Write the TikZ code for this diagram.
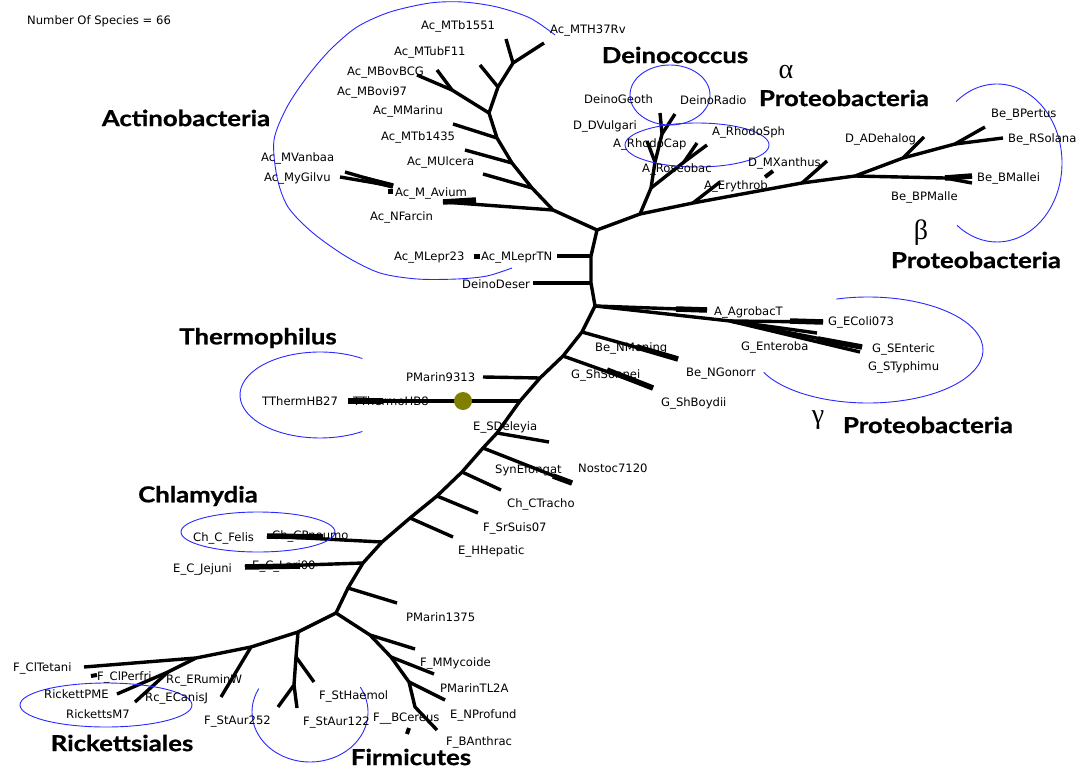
\documentclass[tikz,border=0pt]{standalone}
\usepackage{fontspec}
\newfontfamily\labfont{DejaVu Sans}
\newfontfamily\ttlfont{Lato}[FakeStretch=1.17, BoldFeatures={FakeBold=0.8}]
\newfontfamily\grkfont{Liberation Serif}
\definecolor{grpblue}{RGB}{40,40,255}
\definecolor{dotolive}{RGB}{128,128,0}
\begin{document}
\begin{tikzpicture}[x=1pt,y=-1pt,
  br/.style={line width=3.4pt, line join=round},
  wg/.style={line width=5.5pt},
  lab/.style={font=\labfont\fontsize{11.6}{12}\selectfont, inner sep=0pt, anchor=west, text height=8.5pt, text depth=0pt},
  ttl/.style={font=\ttlfont\bfseries\fontsize{22}{24}\selectfont, inner sep=0pt},
  grk/.style={font=\grkfont\fontsize{28}{30}\selectfont, inner sep=0pt},
  grp/.style={draw=grpblue, line width=0.9pt}]
\fill[white] (0,0) rectangle (1086,768);
\path[use as bounding box] (0,0) rectangle (1086,768);

% ---------- trunk ----------
\coordinate (T1) at (597,230);
\coordinate (tr1) at (591,256);
\coordinate (tr2) at (591,283);
\coordinate (T2) at (595,306);
\coordinate (d1) at (582,332);
\coordinate (d2) at (563,356);
\coordinate (d3) at (540,378);
\coordinate (d4) at (520,401);
\coordinate (d5) at (497,433);
\coordinate (d6) at (483,448);
\coordinate (d7) at (462,472);
\coordinate (d8) at (437,496);
\coordinate (d9) at (410,518);
\coordinate (d10) at (382,542);
\coordinate (d11) at (363,563);
\coordinate (d12) at (348,588);
\coordinate (B) at (336,613);
\draw[br] (T1) -- (tr1) -- (tr2) -- (T2) -- (d1) -- (d2) -- (d3) -- (d4) -- (d5) -- (d6) -- (d7) -- (d8) -- (d9) -- (d10) -- (d11) -- (d12) -- (B);

% ---------- Actinobacteria ----------
\coordinate (H1) at (553,210);
\coordinate (H2) at (532,188);
\coordinate (H3) at (512,163);
\coordinate (H4) at (497,138);
\coordinate (H5) at (489,113);
\coordinate (H6) at (452,90);
\coordinate (H7) at (498,87);
\coordinate (H8) at (513,63);
\coordinate (ac1) at (417,75);
\coordinate (ac2) at (437,70);
\coordinate (ac3) at (506,39);
\coordinate (ac4) at (544,43);
\coordinate (ac5) at (480,65);
\coordinate (ac6) at (453,124);
\coordinate (ac7) at (465,150);
\coordinate (ac8) at (483,174);
\coordinate (ac9) at (443,202);
\coordinate (ac9w) at (476,200);
\coordinate (av0) at (393,186);
\coordinate (av0w) at (365,179);
\coordinate (av1) at (345,172);
\coordinate (av2) at (340,177);
\draw[br] (T1) -- (H1) -- (H2) -- (H3) -- (H4) -- (H5) -- (H6) -- (ac1);
\draw[br] (H6) -- (ac2);
\draw[br] (H5) -- (H7) -- (H8) -- (ac4);
\draw[br] (H8) -- (ac3);
\draw[br] (H7) -- (ac5);
\draw[br] (H4) -- (ac6);
\draw[br] (H3) -- (ac7);
\draw[br] (H2) -- (ac8);
\draw[br] (H1) -- (ac9);
\draw[wg] (ac9) -- (ac9w);
\draw[br] (av0) -- (av1);
\draw[br] (av0) -- (av2);
\draw[wg] (av0) -- (av0w);
\fill (388,189) rectangle (393,194);
\coordinate (lp) at (557,256);
\coordinate (dd) at (533,283);
\draw[br] (tr1) -- (lp);
\draw[br] (tr2) -- (dd);
\fill (474,254) rectangle (480,259);

% ---------- Deinococcus / alpha / beta ----------
\coordinate (A1) at (640,214);
\coordinate (A2) at (651,188);
\coordinate (A3) at (655,162);
\coordinate (A4) at (662,134);
\coordinate (dg) at (660,113);
\coordinate (dr) at (675,114);
\coordinate (rc) at (647,141);
\coordinate (A5) at (684,162);
\coordinate (rs1) at (707,145);
\coordinate (rs2) at (697,143);
\coordinate (A6) at (693,203);
\coordinate (ery) at (720,182);
\coordinate (C1) at (802,183);
\coordinate (mx) at (827,161);
\coordinate (C2) at (855,176);
\coordinate (C3) at (903,158);
\coordinate (deh) at (924,137);
\coordinate (C4) at (955,144);
\coordinate (bp) at (985,127);
\coordinate (rsol) at (1003,138);
\coordinate (C5) at (945,178);
\coordinate (bm1) at (972,176);
\coordinate (bm2) at (972,183);
\draw[br] (T1) -- (A1) -- (A2) -- (A3) -- (A4) -- (dg);
\draw[br] (A4) -- (dr);
\draw[br] (A3) -- (rc);
\draw[br] (A2) -- (A5) -- (rs1);
\draw[br] (A5) -- (rs2);
\draw[br] (A1) -- (A6) -- (C1) -- (C2) -- (C3) -- (C4) -- (bp);
\draw[br] (C4) -- (rsol);
\draw[br] (C3) -- (deh);
\draw[br] (C1) -- (mx);
\draw[br] (A6) -- (ery);
\draw[br] (C2) -- (C5) -- (bm1);
\draw[br] (C5) -- (bm2);
\draw[wg] (C5) -- (bm1);
\draw[line width=4pt] (765,177) -- (773,171);

% ---------- gamma ----------
\coordinate (agro) at (707,310);
\coordinate (agrow) at (676,309);
\coordinate (G1) at (730,321);
\coordinate (eco) at (823,322);
\coordinate (ecow) at (790,321);
\coordinate (ent) at (817,333);
\coordinate (sen) at (862,347);
\coordinate (sty) at (860,352);
\coordinate (senw) at (818,339);
\draw[br] (T2) -- (agro);
\draw[wg] (agrow) -- (agro);
\draw[br] (T2) -- (G1) -- (eco);
\draw[wg] (ecow) -- (eco);
\draw[br] (G1) -- (ent);
\draw[br] (G1) -- (sen);
\draw[br] (G1) -- (sty);
\draw[wg] (senw) -- (sen);

\coordinate (nm) at (678,359);
\coordinate (nmw) at (637,347);
\coordinate (sb) at (653,388);
\coordinate (sbw) at (607,370);
\coordinate (pm93) at (483,377);
\coordinate (th) at (348,401);
\coordinate (thw) at (383,401);
\draw[br] (d1) -- (nm);
\draw[wg] (nmw) -- (nm);
\draw[br] (d2) -- (sb);
\draw[wg] (sbw) -- (sb);
\draw[br] (d3) -- (pm93);
\draw[br] (d4) -- (th);
\draw[wg] (thw) -- (th);
\node[circle, fill=dotolive, minimum size=18pt, inner sep=0pt] (root) at (463,401) {};

% ---------- lower trunk branches ----------
\coordinate (sd) at (549,442);
\coordinate (nos) at (572,483);
\coordinate (nosw) at (553,476);
\coordinate (cht) at (501,490);
\coordinate (srs) at (478,513);
\coordinate (hh) at (453,537);
\coordinate (cpn) at (267,536);
\coordinate (cpnw) at (323,537);
\coordinate (lar) at (245,567);
\coordinate (larw) at (300,566);
\coordinate (pm13) at (397,603);
\draw[br] (d5) -- (sd);
\draw[br] (d6) -- (nos);
\draw[wg] (nosw) -- (nos);
\draw[br] (d7) -- (cht);
\draw[br] (d8) -- (srs);
\draw[br] (d9) -- (hh);
\draw[br] (d10) -- (cpn);
\draw[wg] (cpnw) -- (cpn);
\draw[br] (d11) -- (lar);
\draw[wg] (larw) -- (lar);
\draw[br] (d12) -- (pm13);

% ---------- bottom ----------
\coordinate (J4) at (298,632);
\coordinate (J5) at (296,657);
\coordinate (sh) at (314,682);
\coordinate (J6) at (294,685);
\coordinate (sa1) at (278,707);
\coordinate (sa2) at (297,708);
\coordinate (J1) at (251,647);
\coordinate (ec) at (221,697);
\coordinate (J2) at (196,658);
\coordinate (ct) at (84,667);
\coordinate (J3) at (168,672);
\coordinate (rp) at (117,694);
\coordinate (rm) at (135,702);
\draw[br] (B) -- (J4) -- (J1) -- (J2) -- (ct);
\draw[br] (J4) -- (J5) -- (sh);
\draw[br] (J5) -- (J6) -- (sa1);
\draw[br] (J6) -- (sa2);
\draw[br] (J1) -- (ec);
\draw[br] (J2) -- (J3) -- (rp);
\draw[br] (J3) -- (rm);
\draw[line width=4pt] (91,676) -- (97,675);
\coordinate (J7) at (370,635);
\coordinate (J8) at (391,657);
\coordinate (J9) at (409,682);
\coordinate (J10) at (415,707);
\coordinate (f1) at (415,649);
\coordinate (f2) at (434,674);
\coordinate (f3) at (445,700);
\coordinate (f4) at (437,730);
\draw[br] (B) -- (J7) -- (J8) -- (J9) -- (J10) -- (f4);
\draw[br] (J7) -- (f1);
\draw[br] (J8) -- (f2);
\draw[br] (J9) -- (f3);
\draw[line width=4pt] (409,728) -- (407,734);

% ---------- group outlines ----------
\draw[grp] plot[smooth] coordinates {(555,35) (530,18) (497,7) (463,2) (430,3) (390,12) (357,27) (330,50) (307,77) (287,107) (274,140) (277,177) (288,207) (313,233) (347,257) (380,273) (417,279) (457,279) (487,276) (512,268)};
\draw[grp] (670,95) ellipse [x radius=40, y radius=30];
\draw[grp] (697,145) ellipse [x radius=72, y radius=22];
\draw[grp] (258,532) ellipse [x radius=77, y radius=20];
\draw[grp] (106,705) ellipse [x radius=86, y radius=22];
\draw[grp, shift={(997,163)}] ({65*cos(231)},{79*sin(231)}) arc[start angle=231, end angle=488, x radius=65, y radius=79];
\draw[grp, shift={(868,350)}] ({115*cos(254)},{53*sin(254)}) arc[start angle=254, end angle=515, x radius=115, y radius=53];
\draw[grp, shift={(320,395)}] ({80*cos(302)},{43*sin(302)}) arc[start angle=302, end angle=58, x radius=80, y radius=43];
\draw[grp, shift={(310,712)}] ({58*cos(208)},{50*sin(208)}) arc[start angle=208, end angle=-30, x radius=58, y radius=50];

% ---------- labels ----------
\node[lab] (nsp) at (27,20) {Number Of Species = 66};
\node[lab] (l1) at (421,25) {Ac\_MTb1551};
\node[lab] (l2) at (550,29) {Ac\_MTH37Rv};
\node[lab] (l3) at (394,51) {Ac\_MTubF11};
\node[lab] (l4) at (347,71) {Ac\_MBovBCG};
\node[lab] (l5) at (337,91) {Ac\_MBovi97};
\node[lab] (l6) at (373,110) {Ac\_MMarinu};
\node[lab] (l7) at (381,136) {Ac\_MTb1435};
\node[lab] (l8) at (407,161) {Ac\_MUlcera};
\node[lab] (l9) at (261,157) {Ac\_MVanbaa};
\node[lab] (l10) at (264,177) {Ac\_MyGilvu};
\node[lab] (l11) at (395,192) {Ac\_M\_Avium};
\node[lab] (l12) at (370,216) {Ac\_NFarcin};
\node[lab] (l13) at (394,256) {Ac\_MLepr23};
\node[lab] (l14) at (481,256) {Ac\_MLeprTN};
\node[lab] (l15) at (462,284) {DeinoDeser};
\node[lab] (l16) at (584,99) {DeinoGeoth};
\node[lab] (l17) at (680,100) {DeinoRadio};
\node[lab] (l18) at (573,125) {D\_DVulgari};
\node[lab] (l19) at (613,143) {A\_RhodoCap};
\node[lab] (l20) at (712,131) {A\_RhodoSph};
\node[lab] (l21) at (642,168) {A\_Roseobac};
\node[lab] (l22) at (704,185) {A\_Erythrob};
\node[lab] (l23) at (748,162) {D\_MXanthus};
\node[lab] (l24) at (845,138) {D\_ADehalog};
\node[lab] (l25) at (991,113) {Be\_BPertus};
\node[lab] (l26) at (1008,138) {Be\_RSolana};
\node[lab] (l27) at (977,177) {Be\_BMallei};
\node[lab] (l28) at (891,196) {Be\_BPMalle};
\node[lab] (l29) at (714,311) {A\_AgrobacT};
\node[lab] (l30) at (828,321) {G\_EColi073};
\node[lab] (l31) at (741,346) {G\_Enteroba};
\node[lab] (l32) at (872,348) {G\_SEnteric};
\node[lab] (l33) at (868,366) {G\_STyphimu};
\node[lab] (l34) at (595,347) {Be\_NMening};
\node[lab] (l35) at (686,372) {Be\_NGonorr};
\node[lab] (l36) at (571,374) {G\_ShSonnei};
\node[lab] (l37) at (661,402) {G\_ShBoydii};
\node[lab] (l38) at (406,377) {PMarin9313};
\node[lab] (l39) at (262,401) {TThermHB27};
\node[lab] (l40) at (353,401) {TThermoHB8};
\node[lab] (l41) at (473,426) {E\_SDeleyia};
\node[lab] (l42) at (495,469) {SynEfongat};
\node[lab] (l43) at (578,468) {Nostoc7120};
\node[lab] (l44) at (507,503) {Ch\_CTracho};
\node[lab] (l45) at (483,527) {F\_SrSuis07};
\node[lab] (l46) at (458,550) {E\_HHepatic};
\node[lab] (l47) at (193,537) {Ch\_C\_Felis};
\node[lab] (l48) at (272,535) {Ch\_CPneumo};
\node[lab] (l49) at (173,568) {E\_C\_Jejuni};
\node[lab] (l50) at (252,565) {E\_C\_Lari00};
\node[lab] (l51) at (406,617) {PMarin1375};
\node[lab] (l52) at (13,667) {F\_ClTetani};
\node[lab] (l53) at (97,676) {F\_ClPerfri};
\node[lab] (l54) at (166,679) {Rc\_ERuminW};
\node[lab] (l55) at (44,694) {RickettPME};
\node[lab] (l56) at (145,697) {Rc\_ECanisJ};
\node[lab] (l57) at (66,714) {RickettsM7};
\node[lab] (l58) at (204,720) {F\_StAur252};
\node[lab] (l59) at (319,695) {F\_StHaemol};
\node[lab] (l60) at (303,721) {F\_StAur122};
\node[lab] (l61) at (373,717) {F\_\_BCereus};
\node[lab] (l62) at (420,662) {F\_MMycoide};
\node[lab] (l63) at (440,688) {PMarinTL2A};
\node[lab] (l64) at (450,714) {E\_NProfund};
\node[lab] (l65) at (446,741) {F\_BAnthrac};

% ---------- titles ----------
\node[ttl] (t1) at (186,118) {Actinobacteria};
\node[ttl] (t2) at (675,55) {Deinococcus};
\node[grk] (g1) at (786,72) {α};
\node[ttl] (t3) at (844,98) {Proteobacteria};
\node[grk] (g2) at (921,233) {β};
\node[ttl] (t4) at (976,260) {Proteobacteria};
\node[ttl] (t5) at (258,338) {Thermophilus};
\node[grk] (g3) at (818,420) {γ};
\node[ttl] (t6) at (928,425) {Proteobacteria};
\node[ttl] (t7) at (198,496) {Chlamydia};
\node[ttl] (t8) at (122,743) {Rickettsiales};
\node[ttl] (t9) at (411,757) {Firmicutes};
\end{tikzpicture}
\end{document}
